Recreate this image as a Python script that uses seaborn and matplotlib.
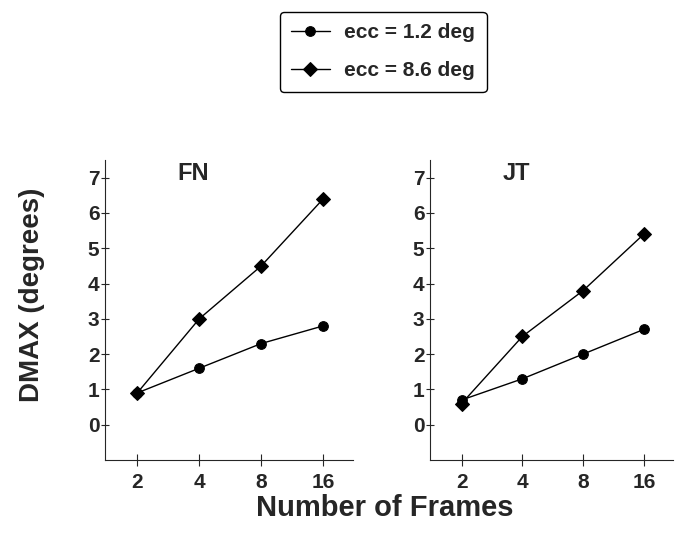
import numpy as np
import pandas as pd
import seaborn as sns
import matplotlib.pyplot as plt
from matplotlib.ticker import FixedLocator, NullLocator

# Values
frames = [2, 4, 8, 16]
series_names = ["ecc = 1.2 deg", "ecc = 8.6 deg"]
fn_ecc12 = [0.9, 1.6, 2.3, 2.8]
fn_ecc86 = [0.9, 3.0, 4.5, 6.4]
jt_ecc12 = [0.7, 1.3, 2.0, 2.7]
jt_ecc86 = [0.6, 2.5, 3.8, 5.4]
y_ticks = [0, 1, 2, 3, 4, 5, 6, 7]

sns.set_style("ticks")
plt.rcParams["font.family"] = ["Liberation Sans", "DejaVu Sans"]
plt.rcParams["font.weight"] = "bold"


def long_df(a, b):
    return pd.DataFrame({
        "frames": frames * 2,
        "dmax": a + b,
        "ecc": [series_names[0]] * len(frames) + [series_names[1]] * len(frames),
    })


panels = [
    ("FN", long_df(fn_ecc12, fn_ecc86)),
    ("JT", long_df(jt_ecc12, jt_ecc86)),
]

fig = plt.figure(figsize=(6.77, 5.46), dpi=100)
ax_pos = [
    [105 / 677, 86 / 546, 248 / 677, 300 / 546],
    [430 / 677, 86 / 546, 243 / 677, 300 / 546],
]

markers = {series_names[0]: "o", series_names[1]: "D"}

for (name, df), pos in zip(panels, ax_pos):
    ax = fig.add_axes(pos)
    sns.lineplot(data=df, x="frames", y="dmax", style="ecc", markers=markers,
                 dashes=False, color="black", linewidth=1.0, markersize=7,
                 markeredgecolor="black", ax=ax, legend=(name == "FN"))
    ax.set_xscale("log", base=2)
    ax.set_xlim(2 ** 0.48, 2 ** 4.48)
    ax.set_ylim(-1.0, 7.5)
    ax.xaxis.set_major_locator(FixedLocator(frames))
    ax.xaxis.set_minor_locator(NullLocator())
    ax.set_xticklabels([str(f) for f in frames])
    ax.set_yticks(y_ticks)
    ax.tick_params(axis="x", direction="inout", length=8, width=0.8,
                   labelsize=15, pad=5)
    ax.tick_params(axis="y", direction="inout", length=6, width=0.8,
                   labelsize=15, pad=1)
    for lab in ax.get_xticklabels() + ax.get_yticklabels():
        lab.set_fontweight("bold")
    ax.set_xlabel("")
    ax.set_ylabel("")
    sns.despine(ax=ax)
    ax.spines["left"].set_linewidth(0.8)
    ax.spines["bottom"].set_linewidth(0.8)
    ax.text(0.355, 0.955, name, transform=ax.transAxes, ha="center",
            va="center", fontsize=17, fontweight="bold")
    if name == "FN":
        handles, labels = ax.get_legend_handles_labels()
        ax.get_legend().remove()

leg = fig.legend(handles, labels, loc="upper center",
                 bbox_to_anchor=(0.566, 0.978), fontsize=15, frameon=True,
                 fancybox=True, edgecolor="black", framealpha=1,
                 handlelength=1.85, handletextpad=0.7, labelspacing=0.9,
                 borderpad=0.55, borderaxespad=0)
leg.get_frame().set_linewidth(1.0)
for t in leg.get_texts():
    t.set_fontweight("bold")

fig.text(0.047, 0.46, "DMAX (degrees)", rotation=90, ha="center",
         va="center", fontsize=20, fontweight="bold")
fig.text(0.568, 0.07, "Number of Frames", ha="center", va="center",
         fontsize=21, fontweight="bold")

fig.savefig("out.png", dpi=100)
